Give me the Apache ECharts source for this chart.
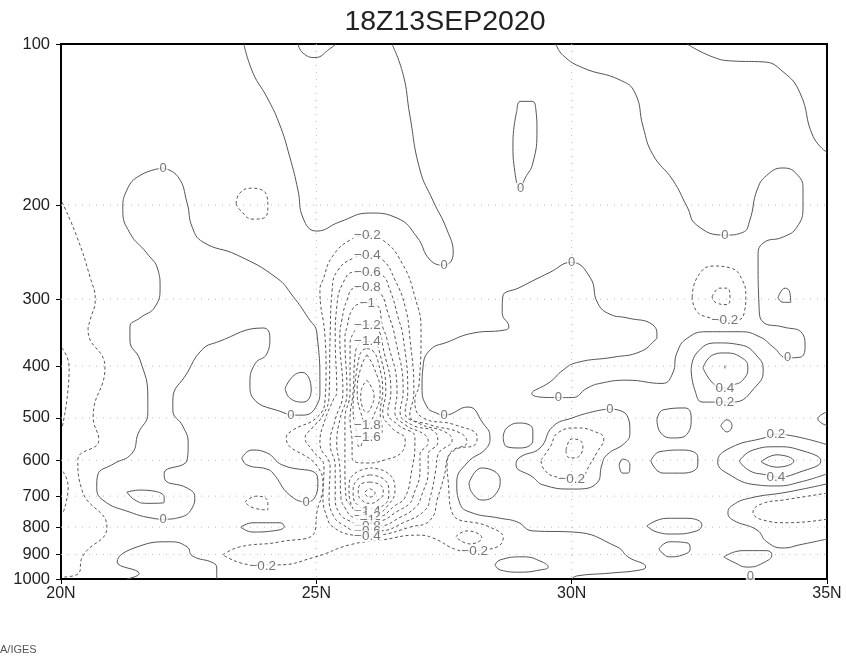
<!DOCTYPE html>
<html><head><meta charset="utf-8">
<style>html,body{margin:0;padding:0;background:#fff}#c{width:846px;height:657px}</style>
<script src="https://cdn.jsdelivr.net/npm/echarts@6/dist/echarts.min.js"></script>
</head><body><div id="c"></div>
<script>
const chartTitle = '18Z13SEP2020';
const footerText = 'A/IGES';
const pressureTicks = [100,200,300,400,500,600,700,800,900,1000];
const latTicks = [20,25,30,35];
const gridPressures = [200,300,400,500,600,700,800,900];
const gridLats = [25,30];

// Each contour: [latitude, pressure hPa] points
const zeroTopLeft = [[23.58,100],[23.76,113.3],[24.03,125.6],[24.27,140.5],[24.48,162.6],[24.64,187.5],[24.74,211.5],[25.01,223.7],[25.46,215],[26.05,207],[26.58,211.5],[26.97,229.5],[27.23,253.4],[27.5,259],[27.68,246],[27.56,222.7],[27.28,195.8],[27.03,172],[26.83,135.8],[26.7,114],[26.48,100]];
const zeroTopArc = [[24.64,100],[24.74,104],[24.97,106],[25.27,102],[25.38,100]];
const zeroWest = [[22,170.5],[21.55,176],[21.29,187.5],[21.21,204],[21.35,225.7],[21.68,246],[21.9,264.6],[21.94,284.5],[21.84,310],[21.55,325],[21.35,338],[21.35,357.5],[21.55,390],[21.7,457],[21.7,490],[21.51,535],[21.39,582],[21.02,610],[20.72,639],[20.7,672],[20.82,712],[21.35,750],[21.8,770],[22,773],[22.33,767],[22.58,733],[22.62,703],[22.47,676],[22.04,653],[22.02,634],[22.47,599],[22.49,557],[22.39,519],[22.19,483],[22.19,463],[22.47,412],[22.76,373],[23.05,361],[23.96,339.5],[24.09,354],[24.03,379.5],[23.8,396],[23.7,432],[23.76,459],[24.43,492],[24.5,494],[24.74,494],[25.01,473],[25.07,443],[25.01,347],[24.84,325],[24.54,296],[24.23,274],[23.45,248],[22.78,234.5],[22.57,220],[22.47,198.3],[22.29,177],[22,170.5]];
const loopA = [[24.39,440],[24.54,418],[24.72,411],[24.9,443],[24.74,467],[24.48,459],[24.39,440]];
const ellipseB = [[21.29,688],[21.55,682],[22.02,703],[22.02,719],[21.68,722],[21.45,712],[21.29,688]];
const bottomLobe = [[21.29,1000],[21.53,977],[21.1,929],[21.49,871],[22.13,852],[22.47,871],[22.57,905],[22.98,933],[23.05,954],[23.05,1000]];
const loopC = [[23.54,594],[23.74,574],[24.03,581],[24.33,612],[25.01,639],[25.03,667],[24.82,718],[24.48,697],[24.15,634],[24.03,623],[23.64,612],[23.54,594]];
const ellipseD = [[23.52,800],[23.76,785],[24.29,785],[24.37,798],[24.15,813],[23.76,817],[23.52,800]];
const zeroBig = [[29.69,100],[29.83,105],[30.22,110.8],[30.95,116.8],[31.24,123.4],[31.4,143],[31.59,161],[31.98,179.6],[32.26,201.5],[32.45,218],[33,227.6],[33.35,225],[33.49,213.3],[33.63,187.5],[33.82,176],[34.14,170.5],[34.43,176],[34.53,187.5],[34.53,201.5],[34.41,220],[34.14,229.5],[33.75,235.5],[33.65,250],[33.67,310],[33.75,331],[34.14,338],[34.51,347],[34.57,368],[34.47,385],[34.23,386],[33.94,368],[33.69,353],[33.3,345],[32.65,345],[32.26,355],[32.06,378],[31.98,412],[31.77,431],[31.08,425],[30.55,431],[30.3,440],[30.01,458],[29.73,458],[29.22,450],[29.58,428],[29.83,407],[30.1,394],[30.81,385],[31.34,376],[31.63,358],[31.67,353],[31.59,335],[31.08,325],[30.75,320],[30.51,305],[30.36,273],[29.99,256],[29.58,267],[28.99,285],[28.65,297],[28.64,318],[28.77,338],[28.69,342.5],[28.07,347],[27.56,361],[27.23,373],[27.09,401],[27.07,437.6],[27.17,477],[27.36,490],[27.5,494],[27.97,477],[28.26,511],[28.4,543],[28.34,568],[27.95,607],[27.75,661],[27.81,722],[28.01,750],[28.6,770],[28.93,782],[29.24,813],[30.03,817],[30.89,871],[31.1,909],[31.45,950],[31.34,962],[30.75,975],[30.1,987],[30,1000]];
const zeroTopRight = [[32.26,100],[32.77,105.8],[33.16,107.6],[33.75,108],[34.14,112.7],[34.47,123.4],[34.73,149],[35,159.5]];
const loop29 = [[28.93,132.9],[28.99,128],[29.22,128],[29.3,132.9],[29.32,144.8],[29.24,167],[29.09,178],[28.99,185.8],[28.89,174],[28.85,153],[28.93,132.9]];
const smallNE = [[34.04,298],[34.18,286],[34.27,291],[34.29,304],[34.14,304],[34.04,298]];
const ringLow = [[32.34,407],[32.45,378],[32.84,362],[33.3,365],[33.65,385],[33.75,407],[33.63,434],[33.16,467],[32.98,467],[32.57,467],[32.41,443],[32.34,407]];
const ringHigh = [[32.57,403],[32.77,381],[33,378],[33.35,387],[33.45,403],[33.35,425],[33.16,434],[32.98,440],[32.77,431],[32.57,403]];
const ringDot = [[33,399],[33,404]];
const smallE = [[32.92,517],[33.04,504],[33.14,517],[33.04,531],[32.92,517]];
const edgeE = [[35,487],[34.82,502],[35,517]];
const ovalF = [[31.67,504],[31.79,483],[32.22,479],[32.34,500],[32.28,533],[31.98,545],[31.73,531],[31.67,504]];
const ovalG = [[28.66,543],[28.73,522],[28.99,511],[29.24,527],[29.24,550],[28.99,569],[28.73,566],[28.66,543]];
const zeroMid = [[30.75,481],[31.08,494],[31.14,533],[31.04,557],[30.69,586],[30.59,612],[30.51,659],[30.03,679],[29.44,667],[29.24,645],[28.91,612],[28.99,592],[29.38,569],[29.63,519],[30.01,500],[30.49,485],[30.75,481]];
const smallH = [[30.93,612],[31,597],[31.14,612],[31.1,634],[31,634],[30.93,612]];
const ovalI = [[31.55,602],[31.73,578],[32.18,574],[32.47,592],[32.47,612],[32.18,634],[31.79,634],[31.55,602]];
const posLow = [[35,561],[34.22,538],[34,536],[33.82,543],[33.1,569],[32.86,604],[33.04,634],[33.63,667],[34.02,670],[34.47,659],[35,636]];
const posMid = [[33.28,602],[33.55,574],[34.02,566],[34.47,574],[34.88,602],[34.47,631],[34,645],[33.82,639],[33.49,628],[33.28,602]];
const posCore = [[33.71,604],[34.02,586],[34.35,602],[34.02,618],[33.71,604]];
const zeroSE = [[35,664],[34.22,688],[33.49,706],[33.16,727],[33.06,752],[33.16,776],[33.63,810],[33.82,852],[34.14,875],[34.47,863],[35,842]];
const ovalJ = [[31.47,796],[31.87,770],[32.26,770],[32.55,792],[32.45,813],[31.98,824],[31.67,817],[31.47,796]];
const ovalK = [[31.71,878],[31.92,852],[32.26,856],[32.32,878],[32.18,901],[31.92,909],[31.77,893],[31.71,878]];
const ovalL = [[32.98,909],[33.35,885],[33.82,885],[33.92,901],[33.75,933],[33.45,950],[33.16,929],[32.98,909]];
const ovalM = [[28.5,941],[28.6,921],[29.05,909],[29.42,929],[29.54,950],[29.38,962],[28.99,971],[28.6,962],[28.5,941]];
const ovalN = [[27.99,661],[28.24,620],[28.6,653],[28.54,688],[28.26,712],[28.05,690],[27.99,661]];

const negWestA = [[20.02,197.5],[20.31,229],[20.57,273],[20.67,301],[20.57,328],[20.53,342.5],[20.86,402],[20.63,498],[20.74,550],[20.33,599],[20.41,682],[20.9,800],[20.41,913],[20.35,975],[20.02,992]];
const negWestB = [[20.02,370],[20.16,402],[20.02,522]];
const negWestC = [[20.04,630],[20.14,672],[20.04,752]];
const negOvalA = [[23.43,199],[23.5,190],[23.74,186],[24.03,192],[24.05,201.5],[24.03,209],[23.76,212.5],[23.5,204],[23.43,199]];
const negOvalB = [[23.6,718],[23.84,700],[24.05,718],[24.05,743],[23.76,736],[23.6,718]];
const neg02 = [[23.17,901],[23.5,871],[24.29,852],[24.97,817],[25.01,752],[25.13,672],[25.03,618],[24.41,545],[24.54,527],[25.01,499],[25.17,463],[25.19,407],[25.17,353],[25.07,288],[25.13,276],[25.31,250],[25.66,232.5],[25.99,228],[26.3,232.5],[26.68,257],[26.93,297],[27.05,342.5],[27.01,434],[26.93,463],[27.09,500],[27.71,515],[28.15,543],[28.11,561],[27.71,574],[27.56,612],[27.58,653],[27.66,752],[28.4,800],[28.66,838],[28.54,871],[28.26,882],[28.01,890],[27.75,882],[27.28,838],[26.97,828],[26.3,845],[25.66,863],[24.97,910],[24.23,941],[23.76,941],[23.17,901]];
const neg04 = [[25.99,248],[26.29,253],[26.54,276],[26.74,310],[26.83,353],[26.91,447],[26.83,494],[27.23,515],[27.81,533],[27.95,555],[27.62,581],[27.5,645],[27.38,703],[27.23,776],[26.83,800],[26.25,828],[25.99,832],[25.72,828],[25.33,800],[25.21,767],[25.13,703],[25.15,618],[24.92,574],[24.78,545],[24.92,522],[25.13,494],[25.25,453],[25.27,353],[25.31,288],[25.42,265],[25.74,251],[25.99,248]];
const neg06 = [[25.99,267],[26.27,270],[26.44,288],[26.6,324],[26.7,353],[26.79,447],[26.74,488],[27.03,513],[27.52,531],[27.66,550],[27.38,586],[27.34,625],[27.23,703],[27.13,743],[26.74,782],[26.21,813],[25.99,813],[25.82,813],[25.52,792],[25.33,760],[25.25,703],[25.27,618],[25.07,557],[25.17,504],[25.33,463],[25.4,447],[25.37,353],[25.4,310],[25.52,280],[25.74,267],[25.99,267]];
const neg08 = [[25.99,284.5],[26.25,292],[26.4,318],[26.54,353],[26.7,447],[26.64,488],[26.87,515],[27.32,531],[27.38,555],[27.19,586],[27.19,625],[27.05,703],[26.95,733],[26.64,767],[26.21,796],[25.99,796],[25.64,778],[25.44,750],[25.37,703],[25.37,618],[25.27,557],[25.37,504],[25.52,447],[25.46,353],[25.5,328],[25.6,301],[25.74,286],[25.99,284.5]];
const neg10 = [[25.99,305],[26.19,308],[26.3,338],[26.38,355],[26.58,447],[26.54,488],[26.74,515],[27.13,538],[27.19,555],[27.03,586],[27.03,625],[26.89,703],[26.83,722],[26.6,746],[26.21,778],[25.99,778],[25.72,767],[25.56,736],[25.48,703],[25.46,618],[25.4,557],[25.46,504],[25.6,447],[25.56,355],[25.6,338],[25.7,314],[25.85,306],[25.99,305]];
const neg12 = [[25.99,335],[26.15,336],[26.25,348],[26.3,366],[26.46,447],[26.4,488],[26.6,515],[26.93,543],[26.93,561],[26.87,625],[26.74,703],[26.54,729],[26.21,764],[25.99,764],[25.82,750],[25.7,733],[25.58,703],[25.56,618],[25.56,557],[25.56,504],[25.66,447],[25.66,365],[25.74,345],[25.85,336],[25.99,335]];
const neg14 = [[25.99,360],[26.13,362],[26.25,381],[26.36,447],[26.3,488],[26.48,522],[26.74,550],[26.68,578],[26.34,599],[25.99,607],[25.7,594],[25.7,557],[25.66,504],[25.72,447],[25.76,381],[25.85,363],[25.99,360]];
const neg16 = [[25.99,371],[26.11,375],[26.21,393],[26.3,447],[26.25,488],[26.29,527],[26.15,543],[25.99,543],[25.85,567],[25.78,527],[25.72,483],[25.74,447],[25.82,393],[25.89,375],[25.99,371]];
const neg18 = [[25.99,381],[26.13,403],[26.25,447],[26.15,488],[25.99,515],[25.87,488],[25.8,447],[25.87,403],[25.99,381]];
const neg20 = [[25.99,425],[26.09,440],[26.13,455],[26.09,473],[25.99,488],[25.89,473],[25.87,455],[25.89,440],[25.99,425]];
const lowerRing1 = [[26.05,678],[26.15,690],[26.05,703],[25.95,690],[26.05,678]];
const lowerRing2 = [[26.05,659],[26.25,667],[26.31,690],[26.21,712],[26.05,722],[25.89,712],[25.82,690],[25.85,667],[26.05,659]];
const lowerRing3 = [[26.05,639],[26.34,653],[26.42,690],[26.31,729],[26.05,739],[25.82,729],[25.72,690],[25.8,653],[26.05,639]];
const lowerRing4 = [[26.05,620],[26.4,634],[26.54,682],[26.4,729],[26.21,750],[25.85,750],[25.66,712],[25.64,676],[25.72,639],[26.05,620]];
const negCircle = [[32.36,297],[32.45,274],[32.77,260],[33.1,262],[33.34,276],[33.41,297],[33.39,314],[33.26,328],[33,329],[32.71,325],[32.45,316],[32.36,297]];
const negCircleIn = [[32.75,297],[32.9,286],[33.04,286],[33.1,298],[33.04,307],[32.84,305],[32.75,297]];
const negMid = [[29.4,599],[29.58,566],[29.73,533],[30.1,522],[30.42,529],[30.63,547],[30.49,581],[30.3,625],[30.22,647],[30.01,647],[29.73,645],[29.44,620],[29.4,599]];
const negMidIn = [[29.89,574],[30.01,547],[30.2,555],[30.22,566],[30.06,594],[29.93,592],[29.89,574]];
const negSE = [[35,691],[34.14,712],[33.75,722],[33.55,750],[33.75,776],[34.22,785],[35,773]];
const negSmall = [[27.73,834],[27.95,813],[28.24,838],[28.01,860],[27.73,834]];

const solidContours = [zeroTopLeft,zeroTopArc,zeroWest,loopA,ellipseB,bottomLobe,loopC,ellipseD,zeroBig,zeroTopRight,loop29,smallNE,ringLow,ringHigh,ringDot,smallE,edgeE,ovalF,ovalG,zeroMid,smallH,ovalI,posLow,posMid,posCore,zeroSE,ovalJ,ovalK,ovalL,ovalM,ovalN];
const dashedContours = [negWestA,negWestB,negWestC,negOvalA,negOvalB,neg02,neg04,neg06,neg08,neg10,neg12,neg14,neg16,neg18,neg20,lowerRing1,lowerRing2,lowerRing3,lowerRing4,negCircle,negCircleIn,negMid,negMidIn,negSE,negSmall];

// [latitude, pressure, text]
const zeroLabels = [[22,171,'0'],[27.5,259,'0'],[33,227.6,'0'],[29,186,'0'],[30,256,'0'],[34.23,386,'0'],[27.5,494,'0'],[24.5,494,'0'],[29.74,458,'0'],[30.75,481,'0'],[24.8,718,'0'],[22,773,'0'],[33.5,987,'0']];
const valueLabels = [[26,228,'−0.2'],[26,248,'−0.4'],[26,267,'−0.6'],[26,284.5,'−0.8'],[26,305,'−1'],[26,335,'−1.2'],[26,360,'−1.4'],[26,515,'−1.8'],[26,543,'−1.6'],[26,746,'−1.4'],[26,764,'−1.2'],[26,778,'−1'],[26,796,'−0.8'],[26,813,'−0.6'],[26,832,'−0.4'],[33,329,'−0.2'],[23.95,945,'−0.2'],[28.1,886,'−0.2'],[30,650,'−0.2'],[33,440,'0.4'],[33,467,'0.2'],[34,536,'0.2'],[34,645,'0.4']];

const contourColor = '#555';
const lineSeries = (pts, dashed) => ({
  type:'line', data:pts, smooth:0.5, smoothConstraint:false, showSymbol:false, silent:true, clip:true, z:3,
  lineStyle:{color:contourColor, width:1, type: dashed ? [3,2.5] : 'solid'}
});
const gridSeries = pts => ({
  type:'line', data:pts, showSymbol:false, silent:true, z:1,
  lineStyle:{color:'#bbb', width:1, type:[1,6]}
});
const labelSeries = (rows, size) => ({
  type:'scatter', symbolSize:1, silent:true, z:5, itemStyle:{color:'transparent'},
  data:rows.map(r=>({value:[r[0],r[1]], name:r[2]})),
  labelLayout:{hideOverlap:false},
  label:{show:true, position:'inside', formatter:p=>p.name, color:'#555', fontSize:size,
    fontFamily:'Liberation Sans', backgroundColor:'#fff', padding:[0,1], lineHeight:size-2}
});

const chart = echarts.init(document.getElementById('c'), null, {renderer:'canvas'});
chart.setOption({
  animation:false, backgroundColor:'#fff',
  title:{text:chartTitle, left:440, top:3, textAlign:'center',
    textStyle:{fontFamily:'Liberation Sans', fontSize:28.5, fontWeight:'normal', color:'#222'}},
  grid:{left:61, right:19, top:44, bottom:78, show:true, borderColor:'#000', borderWidth:2, backgroundColor:'transparent'},
  xAxis:{type:'value', min:20, max:35, interval:5, position:'bottom',
    axisLine:{onZero:false, lineStyle:{color:'#000', width:2}},
    axisTick:{length:5, lineStyle:{color:'#000', width:1}},
    splitLine:{show:false},
    axisLabel:{formatter:v=>latTicks.includes(v)?v+'N':'', color:'#222', fontSize:16, fontFamily:'Liberation Sans', margin:7, hideOverlap:false}},
  yAxis:{type:'log', logBase:10, min:100, max:1000, inverse:true, position:'left',
    axisLine:{onZero:false, lineStyle:{color:'#000', width:2}},
    axisTick:{length:5, customValues:pressureTicks, lineStyle:{color:'#000', width:1}},
    minorTick:{show:false}, splitLine:{show:false},
    axisLabel:{customValues:pressureTicks, formatter:v=>String(v), color:'#222', fontSize:16.5, fontFamily:'Liberation Sans', margin:11, hideOverlap:false}},
  graphic:[{type:'text', left:0, top:644, style:{text:footerText, fontFamily:'Liberation Sans', fontSize:11, fill:'#555'}}],
  series:[
    ...gridPressures.map(p=>gridSeries([[20,p],[35,p]])),
    ...gridLats.map(l=>gridSeries([[l,100],[l,1000]])),
    ...solidContours.map(c=>lineSeries(c,false)),
    ...dashedContours.map(c=>lineSeries(c,true)),
    labelSeries(zeroLabels,13),
    labelSeries(valueLabels,13.5)
  ]
});
</script></body></html>
